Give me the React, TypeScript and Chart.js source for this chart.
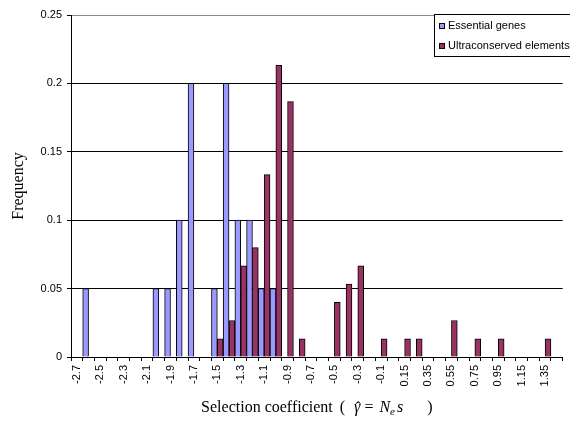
import React, { useEffect, useRef } from 'react';
import { Chart, registerables } from 'chart.js';

Chart.register(...registerables);

// Category bins (selection coefficient); every other one is labelled
const categories: string[] = [
  '-2.7', '-2.6', '-2.5', '-2.4', '-2.3', '-2.2', '-2.1', '-2', '-1.9', '-1.8',
  '-1.7', '-1.6', '-1.5', '-1.4', '-1.3', '-1.2', '-1.1', '-1', '-0.9', '-0.8',
  '-0.7', '-0.6', '-0.5', '-0.4', '-0.3', '-0.2', '-0.1', '0.05', '0.15', '0.25',
  '0.35', '0.45', '0.55', '0.65', '0.75', '0.85', '0.95', '1.05', '1.15', '1.25',
  '1.35', '1.45',
];

const essentialGenes: number[] = [
  0, 0.05, 0, 0, 0, 0, 0, 0.05, 0.05, 0.1,
  0.2, 0, 0.05, 0.2, 0.1, 0.1, 0.05, 0.05, 0, 0,
  0, 0, 0, 0, 0, 0, 0, 0, 0, 0,
  0, 0, 0, 0, 0, 0, 0, 0, 0, 0,
  0, 0,
];

const ultraconservedElements: number[] = [
  0, 0, 0, 0, 0, 0, 0, 0, 0, 0,
  0, 0, 0.0133, 0.0267, 0.0667, 0.08, 0.1333, 0.2133, 0.1867, 0.0133,
  0, 0, 0.04, 0.0533, 0.0667, 0, 0.0133, 0, 0.0133, 0.0133,
  0, 0, 0.0267, 0, 0.0133, 0, 0.0133, 0, 0, 0,
  0.0133, 0,
];

const seriesLabels: string[] = ['Essential genes', 'Ultraconserved elements'];
const seriesColors: string[] = ['#9999FF', '#993366'];
const yTitle = 'Frequency';
const xTitleParts: { t: string; italic?: boolean; sub?: boolean; hat?: boolean; gap: number }[] = [
  { t: 'Selection coefficient', gap: 7 },
  { t: '(', gap: 9 },
  { t: 'γ', italic: true, hat: true, gap: 4 },
  { t: '=', gap: 6 },
  { t: 'N', italic: true, gap: 0 },
  { t: 'e', italic: true, sub: true, gap: 2 },
  { t: 's', italic: true, gap: 24 },
  { t: ')', gap: 0 },
];

export default function App() {
  const ref = useRef<HTMLCanvasElement>(null);

  useEffect(() => {
    if (!ref.current) return;
    Chart.defaults.font.family = '"Liberation Sans", Arial, sans-serif';

    const legendPlugin = {
      id: 'boxLegend',
      afterDraw(chart: any) {
        const { ctx } = chart;
        const x = 434, y = 14, w = 140, h = 42;
        ctx.save();
        ctx.fillStyle = '#ffffff';
        ctx.fillRect(x, y, w, h);
        ctx.strokeStyle = '#000000';
        ctx.lineWidth = 1;
        ctx.strokeRect(x + 0.5, y + 0.5, w, h);
        ctx.font = '11px "Liberation Sans", Arial, sans-serif';
        ctx.textBaseline = 'middle';
        ctx.textAlign = 'left';
        chart.data.datasets.forEach((ds: any, i: number) => {
          const cy = y + 12 + i * 20;
          ctx.fillStyle = ds.backgroundColor;
          ctx.fillRect(x + 5, cy - 3, 6, 6);
          ctx.strokeStyle = '#000';
          ctx.strokeRect(x + 5.5, cy - 2.5, 5, 5);
          ctx.fillStyle = '#000';
          ctx.fillText(ds.label, x + 14, cy);
        });
        ctx.restore();
      },
    };

    const xTitlePlugin = {
      id: 'xTitle',
      afterDraw(chart: any) {
        const { ctx, chartArea } = chart;
        const base = '16px "Liberation Serif", "Times New Roman", serif';
        const ital = 'italic 16px "Liberation Serif", "Times New Roman", serif';
        const subF = 'italic 11px "Liberation Serif", "Times New Roman", serif';
        ctx.save();
        ctx.fillStyle = '#000';
        ctx.textBaseline = 'alphabetic';
        ctx.textAlign = 'left';
        const widths = xTitleParts.map((p) => {
          ctx.font = p.sub ? subF : p.italic ? ital : base;
          return ctx.measureText(p.t).width;
        });
        const total = xTitleParts.reduce((a, p, i) => a + widths[i] + p.gap, 0);
        const cx = (chartArea.left + chartArea.right) / 2;
        let x = cx - total / 2;
        const baseline = 412;
        xTitleParts.forEach((p, i) => {
          ctx.font = p.sub ? subF : p.italic ? ital : base;
          ctx.fillText(p.t, x, p.sub ? baseline + 3 : baseline);
          if (p.hat) {
            ctx.font = base;
            const hw = ctx.measureText('ˆ').width;
            ctx.fillText('ˆ', x + widths[i] / 2 - hw / 2 + 1, baseline + 1);
          }
          x += widths[i] + p.gap;
        });
        ctx.restore();
      },
    };

    const chart = new Chart(ref.current, {
      type: 'bar',
      data: {
        labels: categories,
        datasets: [
          {
            label: seriesLabels[0],
            data: essentialGenes.map((v) => (v === 0 ? null : v)),
            backgroundColor: seriesColors[0],
            borderColor: '#000000',
            borderWidth: 1,
            barPercentage: 1,
            categoryPercentage: 1,
          },
          {
            label: seriesLabels[1],
            data: ultraconservedElements.map((v) => (v === 0 ? null : v)),
            backgroundColor: seriesColors[1],
            borderColor: '#000000',
            borderWidth: 1,
            barPercentage: 1,
            categoryPercentage: 1,
          },
        ],
      },
      options: {
        responsive: false,
        animation: false,
        devicePixelRatio: 1,
        layout: { padding: { top: 15, left: 0, right: 0, bottom: 0 } },
        plugins: {
          legend: { display: false },
          tooltip: { enabled: false },
          title: { display: false },
        },
        scales: {
          x: {
            offset: true,
            grid: {
              display: true,
              drawOnChartArea: false,
              drawTicks: true,
              tickLength: 4,
              offset: true,
              color: '#000000',
            },
            border: { display: true, color: '#000000', width: 1 },
            ticks: {
              autoSkip: false,
              minRotation: 90,
              maxRotation: 90,
              padding: 4,
              color: '#000000',
              font: { size: 11, family: '"Liberation Sans", Arial, sans-serif' },
              callback: (_v: any, index: number) => (index % 2 === 0 ? categories[index] : ''),
            },
            afterFit: (scale: any) => {
              scale.height = 68;
            },
          },
          y: {
            min: 0,
            max: 0.25,
            grid: {
              color: (c: any) => (Math.abs(c.tick.value - 0.25) < 1e-9 ? '#8c8c8c' : '#000000'),
              tickColor: '#000000',
              tickLength: 4,
              drawTicks: true,
            },
            border: { display: true, color: '#000000', width: 1 },
            ticks: {
              stepSize: 0.05,
              padding: 5,
              color: '#000000',
              font: { size: 11, family: '"Liberation Sans", Arial, sans-serif' },
              callback: (v: any) => String(Number(Number(v).toFixed(2))),
            },
            title: {
              display: true,
              text: yTitle,
              color: '#000000',
              font: { size: 16, family: '"Liberation Serif", "Times New Roman", serif' },
              padding: { top: 9, bottom: 0 },
            },
            afterFit: (scale: any) => {
              scale.width = 71;
            },
          },
        },
      },
      plugins: [legendPlugin, xTitlePlugin],
    });

    return () => chart.destroy();
  }, []);

  return (
    <div
      style={{
        position: 'fixed',
        left: 0,
        top: 0,
        width: 570,
        height: 425,
        overflow: 'hidden',
        background: '#ffffff',
      }}
    >
      <canvas ref={ref} width={574} height={425} style={{ display: 'block', width: 574, height: 425 }} />
    </div>
  );
}
